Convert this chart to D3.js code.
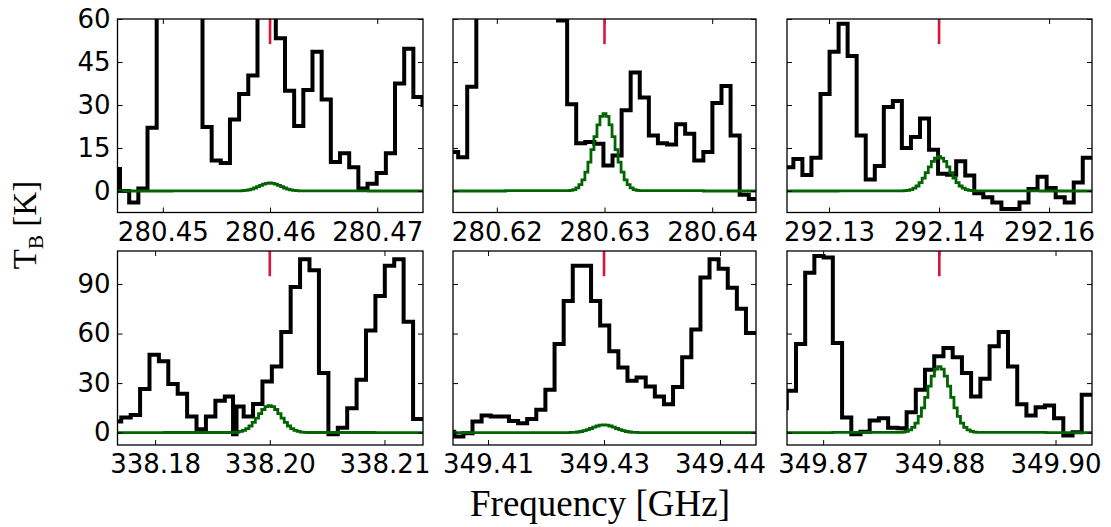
<!DOCTYPE html>
<html>
<head>
<meta charset="utf-8">
<script src="https://cdn.jsdelivr.net/npm/d3@7"></script>
<style>
    body { margin: 0; background: #fff; }
    svg { display: block; }
    .tick text { font-family: "DejaVu Sans", sans-serif; font-size: 26px; fill: #000; }
    .tick line { stroke: #000; stroke-width: 1; }
    .label { font-family: "Liberation Serif", "DejaVu Serif", "Tinos", "Nimbus Roman", "Nimbus Roman No9 L", "FreeSerif", "STIXGeneral", "Times New Roman", Times, serif; fill: #000; }
</style>
</head>
<body>
<div id="wrapper"></div>
<script>
// x values are offsets from each line centre, in MHz
const xTickOffsets = [-10, 0, 10];
const xTickLabels = [
    ["280.45", "280.46", "280.47"],
    ["280.62", "280.63", "280.64"],
    ["292.13", "292.14", "292.16"],
    ["338.18", "338.20", "338.21"],
    ["349.41", "349.43", "349.44"],
    ["349.87", "349.88", "349.90"],
];
const xDomains = [
    [-14.23, 14.27], [-14.07, 14.07], [-13.82, 13.9],
    [-13.28, 13.36], [-13.02, 13.1], [-13.11, 13.14],
];
const yTicksTop = [0, 15, 30, 45, 60];
const yTicksBottom = [0, 30, 60, 90];
const yDomainTop = [-7.5, 60];
const yDomainBottom = [-7.5, 110];

// observed spectra (channel centres, brightness temperature in K)
const p1Offsets = [-14.42, -13.57, -12.71, -11.86, -11.00, -10.15, -9.29, -8.44, -7.58, -6.73, -5.87, -5.02, -4.17, -3.31, -2.46, -1.60, -0.74, 0.11, 0.97, 1.82, 2.68, 3.53, 4.39, 5.24, 6.10, 6.96, 7.81, 8.67, 9.52, 10.38, 11.23, 12.09, 12.94, 13.80, 14.65];
const p1Values = [7.7, 0, -4.0, 0.9, 22.1, 75, 110, 130, 105, 70, 22.3, 10.6, 9.8, 24.9, 33.8, 40.3, 64, 62, 53.3, 35.0, 22.7, 35.2, 48.6, 31.9, 10.1, 13.2, 8.3, 0.9, 2.5, 6.3, 13.2, 37.5, 49.6, 32.8, 30];

const p2Offsets = [-14.85, -14.01, -13.17, -12.33, -11.48, -10.64, -9.80, -8.95, -8.11, -7.27, -6.42, -5.58, -4.74, -3.89, -3.05, -2.21, -1.36, -0.52, 0.32, 1.17, 2.01, 2.85, 3.70, 4.54, 5.38, 6.23, 7.07, 7.91, 8.76, 9.60, 10.44, 11.29, 12.13, 12.98, 13.82, 14.66];
const p2Values = [13.6, 13.6, 11.8, 36.4, 70, 95, 120, 140, 150, 140, 115, 90, 70, 59.5, 30.3, 16.7, 17.1, 16.5, 8.9, 12.4, 28.2, 41.3, 32.6, 19.4, 16.7, 16.2, 23.3, 20.0, 10.6, 13.6, 30.7, 36.6, 19.4, -1.3, -2.8, -2.8];

const p3Offsets = [-14.47, -13.65, -12.83, -12.01, -11.19, -10.36, -9.54, -8.72, -7.90, -7.08, -6.25, -5.43, -4.61, -3.79, -2.97, -2.14, -1.32, -0.50, 0.32, 1.14, 1.97, 2.79, 3.61, 4.43, 5.25, 6.08, 6.90, 7.72, 8.54, 9.36, 10.19, 11.01, 11.83, 12.65, 13.47, 14.29];
const p3Values = [8.3, 8.3, 11.2, 5.6, 11.6, 33.8, 48.6, 58.3, 47.1, 19.4, 4.0, 8.7, 29.3, 31.4, 15.0, 18.8, 25.3, 14.4, 6.0, 5.7, 10.4, 5.4, -0.8, -2.2, -4.0, -6.3, -6.3, -4.0, 0.7, 5.0, 1.05, -2.2, -4.0, 3.0, 11.6, 11.6];

const p4Offsets = [-13.37, -12.54, -11.72, -10.90, -10.08, -9.26, -8.44, -7.62, -6.80, -5.98, -5.16, -4.33, -3.51, -2.90, -2.90, -2.69, -1.87, -1.05, -0.23, 0.59, 1.41, 2.23, 3.05, 3.87, 4.70, 5.52, 6.34, 7.16, 7.98, 8.80, 9.62, 10.44, 11.26, 12.08, 12.91, 13.73];
const p4Values = [6.7, 9.1, 10.7, 26.4, 47.2, 43.2, 29.4, 23.5, 9.7, 2.0, 9.7, 19.3, 21.9, -1.0, 15.8, 15.8, 9.7, 17.4, 31.0, 40.1, 61.0, 88.2, 105, 98.3, 36.1, -1.0, 3.0, 14.8, 32.0, 61.8, 82.7, 101, 105, 67.1, 8.3, 8.3];

const p5Offsets = [-13.30, -12.52, -11.73, -10.95, -10.16, -9.38, -8.59, -7.80, -7.02, -6.23, -5.45, -4.66, -3.87, -3.09, -2.30, -1.51, -0.73, 0.06, 0.84, 1.63, 2.41, 3.20, 3.99, 4.77, 5.56, 6.34, 7.13, 7.92, 8.70, 9.49, 10.27, 11.06, 11.84, 12.63, 13.42];
const p5Values = [0.5, -2.4, -0.4, 6.7, 10.3, 9.7, 9.7, 7.1, 5.7, 8.3, 13.8, 25.9, 53.7, 79.7, 101, 101, 79.7, 64.9, 49.3, 39.5, 31.4, 33.4, 28.0, 21.9, 17.2, 27.6, 45.6, 62.4, 93.9, 105, 99.3, 87.8, 75.0, 60.4, 60.4];

const p6Offsets = [-13.53, -12.73, -11.94, -11.15, -10.36, -9.56, -8.77, -7.97, -7.18, -6.39, -5.60, -4.80, -4.01, -3.21, -2.42, -1.63, -0.84, -0.04, 0.75, 1.55, 2.34, 3.13, 3.93, 4.72, 5.51, 6.31, 7.10, 7.89, 8.69, 9.48, 10.27, 11.07, 11.86, 12.65, 13.45];
const p6Values = [14.8, 25.3, 53.7, 96.9, 107, 106, 54.3, 9.1, -1.0, 0.6, 7.3, 8.7, 3.0, 2.6, 12.4, 25.9, 38.1, 46.2, 51.3, 45.6, 36.1, 21.9, 32.6, 52.3, 61.0, 40.1, 17.2, 10.3, 15.4, 16.4, 8.7, -1.8, 0.2, 22.9, 22.9];

// model profiles (green)
const modelOffsets = [-15, -3.36, -3.08, -2.80, -2.52, -2.24, -1.96, -1.68, -1.40, -1.12, -0.84, -0.56, -0.28, 0, 0.28, 0.56, 0.84, 1.12, 1.40, 1.68, 1.96, 2.24, 2.52, 2.80, 3.08, 3.36, 15];
const m1Values = [0, 0.01, 0.02, 0.06, 0.12, 0.23, 0.41, 0.68, 1.05, 1.50, 1.97, 2.39, 2.69, 2.8, 2.69, 2.39, 1.97, 1.50, 1.05, 0.68, 0.41, 0.23, 0.12, 0.06, 0.02, 0.01, 0];
const m2Values = [0, 0.1, 0.2, 0.5, 1.1, 2.2, 3.9, 6.6, 10.1, 14.4, 19.0, 23.1, 26.0, 27, 26.0, 23.1, 19.0, 14.4, 10.1, 6.6, 3.9, 2.2, 1.1, 0.5, 0.2, 0.1, 0];
const m3Values = [0, 0.04, 0.1, 0.24, 0.5, 0.97, 1.75, 2.9, 4.5, 6.4, 8.4, 10.3, 11.5, 12, 11.5, 10.3, 8.4, 6.4, 4.5, 2.9, 1.75, 0.97, 0.5, 0.24, 0.1, 0.04, 0];
const m4Values = [0, 0.06, 0.14, 0.33, 0.7, 1.3, 2.4, 4.0, 6.2, 8.8, 11.5, 14.0, 15.8, 16.4, 15.8, 14.0, 11.5, 8.8, 6.2, 4.0, 2.4, 1.3, 0.7, 0.33, 0.14, 0.06, 0];
const m5Values = [0, 0.02, 0.04, 0.09, 0.2, 0.38, 0.69, 1.15, 1.76, 2.5, 3.3, 4.0, 4.5, 4.7, 4.5, 4.0, 3.3, 2.5, 1.76, 1.15, 0.69, 0.38, 0.2, 0.09, 0.04, 0.02, 0];
const m6Values = [0, 0.14, 0.35, 0.8, 1.7, 3.2, 5.8, 9.8, 15.0, 21.4, 28.1, 34.2, 38.5, 40, 38.5, 34.2, 28.1, 21.4, 15.0, 9.8, 5.8, 3.2, 1.7, 0.8, 0.35, 0.14, 0];

const spectra = [
    [p1Offsets, p1Values], [p2Offsets, p2Values], [p3Offsets, p3Values],
    [p4Offsets, p4Values], [p5Offsets, p5Values], [p6Offsets, p6Values],
];
const models = [m1Values, m2Values, m3Values, m4Values, m5Values, m6Values];

// layout
const colX = [117.5, 453, 787];
const colW = [305.5, 303, 305];
const rowY = [19, 251];
const rowH = [193.5, 194];

const svg = d3.select("#wrapper").append("svg")
    .attr("width", 1111)
    .attr("height", 527);

spectra.forEach((spec, i) => {
    const row = Math.floor(i / 3);
    const col = i % 3;
    const w = colW[col];
    const h = rowH[row];

    const xScale = d3.scaleLinear().domain(xDomains[i]).range([0, w]);
    const yScale = d3.scaleLinear()
        .domain(row === 0 ? yDomainTop : yDomainBottom)
        .range([h, 0]);
    const yTicks = row === 0 ? yTicksTop : yTicksBottom;

    const bounds = svg.append("g")
        .attr("transform", `translate(${colX[col]},${rowY[row]})`);

    bounds.append("clipPath")
        .attr("id", `clip-${i}`)
        .append("rect")
        .attr("width", w)
        .attr("height", h);

    const lineGenerator = d3.line()
        .x(d => xScale(d[0]))
        .y(d => yScale(d[1]))
        .curve(d3.curveStep);

    // observed spectrum
    bounds.append("path")
        .datum(d3.zip(spec[0], spec[1]))
        .attr("d", lineGenerator)
        .attr("fill", "none")
        .attr("stroke", "#000")
        .attr("stroke-width", 4)
        .attr("stroke-linejoin", "miter")
        .attr("clip-path", `url(#clip-${i})`);

    // model
    bounds.append("path")
        .datum(d3.zip(modelOffsets, models[i]))
        .attr("d", lineGenerator)
        .attr("fill", "none")
        .attr("stroke", "#006400")
        .attr("stroke-width", 2.8)
        .attr("clip-path", `url(#clip-${i})`);

    // axes, ticks pointing inwards on all sides
    const xAxis = bounds.append("g")
        .attr("transform", `translate(0,${h})`)
        .call(d3.axisBottom(xScale)
            .tickValues(xTickOffsets)
            .tickFormat((d, k) => xTickLabels[i][k])
            .tickSizeInner(-5).tickSizeOuter(0).tickPadding(10));
    const xAxisTop = bounds.append("g")
        .call(d3.axisTop(xScale)
            .tickValues(xTickOffsets).tickFormat("")
            .tickSizeInner(-5).tickSizeOuter(0));
    const yAxis = bounds.append("g")
        .call(d3.axisLeft(yScale)
            .tickValues(yTicks)
            .tickFormat(col === 0 ? d3.format("d") : () => "")
            .tickSizeInner(-5).tickSizeOuter(0).tickPadding(7));
    const yAxisRight = bounds.append("g")
        .attr("transform", `translate(${w},0)`)
        .call(d3.axisRight(yScale)
            .tickValues(yTicks).tickFormat("")
            .tickSizeInner(-5).tickSizeOuter(0));
    bounds.selectAll(".domain").remove();

    // line position marker
    bounds.append("line")
        .attr("x1", xScale(0))
        .attr("x2", xScale(0))
        .attr("y1", 0)
        .attr("y2", h * 0.13)
        .attr("stroke", "#dc143c")
        .attr("stroke-width", 2.6);

    bounds.append("rect")
        .attr("width", w)
        .attr("height", h)
        .attr("fill", "none")
        .attr("stroke", "#000")
        .attr("stroke-width", 1.3);
});

// axis labels
const yLabel = svg.append("text")
    .attr("class", "label")
    .attr("transform", "translate(36,225) rotate(-90)")
    .attr("text-anchor", "middle")
    .style("font-size", "33px");
yLabel.append("tspan").text("T");
yLabel.append("tspan").attr("dy", 7).style("font-size", "21px").text("B");
yLabel.append("tspan").attr("dy", -7).text(" [K]");

svg.append("text")
    .attr("class", "label")
    .attr("x", 600)
    .attr("y", 516)
    .attr("text-anchor", "middle")
    .style("font-size", "37px")
    .text("Frequency [GHz]");
</script>
</body>
</html>
